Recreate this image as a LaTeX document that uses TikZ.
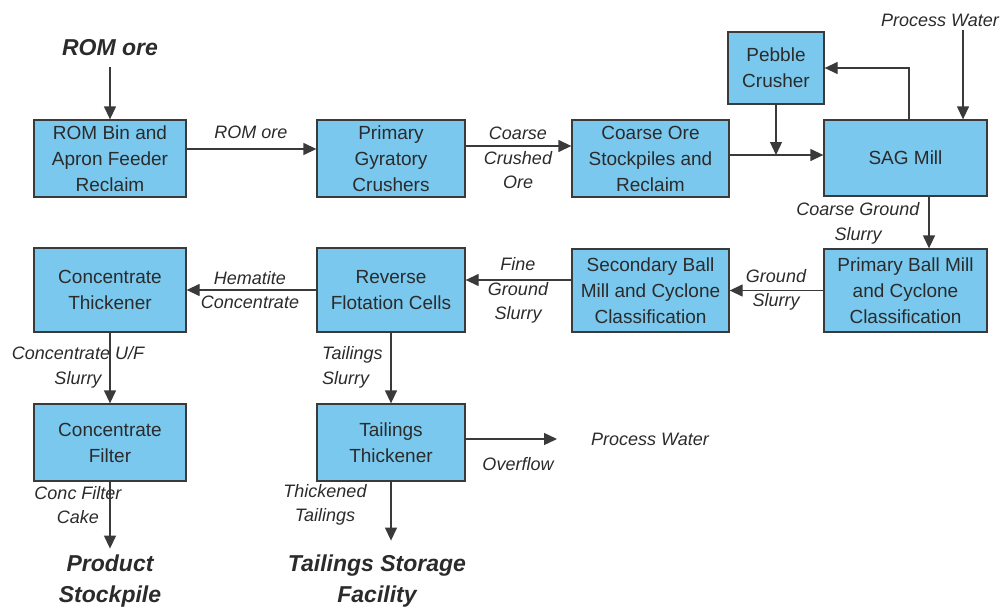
\documentclass[tikz,border=0pt]{standalone}
\usepackage{fontspec}
\setmainfont{Liberation Sans}
\usetikzlibrary{arrows.meta,calc}
\definecolor{boxfill}{HTML}{7AC8EE}
\definecolor{boxline}{HTML}{3A3A3A}
\definecolor{txt}{HTML}{2B2B2B}
\tikzset{
  box/.style={draw=boxline, fill=boxfill, line width=1.3pt, align=center, text=txt,
    font=\fontsize{19}{26}\selectfont, inner sep=0pt},
  lbl/.style={align=center, text=txt, font=\fontsize{18}{24.5}\selectfont\itshape, inner sep=0pt},
  ttl/.style={align=center, text=txt, font=\fontsize{23}{31}\selectfont\bfseries\itshape, inner sep=0pt},
  arr/.style={draw=boxline, line width=1.3pt, -{Triangle[length=13pt,width=12pt]}},
  ln/.style={draw=boxline, line width=1.3pt}
}
\begin{document}
\begin{tikzpicture}[x=1pt,y=-1pt]
\useasboundingbox (0,0) rectangle (1004,610);
% boxes
\node[box, minimum width=152pt, minimum height=77pt] (rom) at (110,158.5) {ROM Bin and\\Apron Feeder\\Reclaim};
\node[box, minimum width=148pt, minimum height=77pt] (pgc) at (391,158.5) {Primary\\Gyratory\\Crushers};
\node[box, minimum width=157pt, minimum height=77pt] (cos) at (650.5,158.5) {Coarse Ore\\Stockpiles and\\Reclaim};
\node[box, minimum width=96pt, minimum height=72pt] (peb) at (776,68) {Pebble\\Crusher};
\node[box, minimum width=163pt, minimum height=76pt] (sag) at (905.5,158) {SAG Mill};
\node[box, minimum width=163pt, minimum height=83pt] (pbm) at (905.5,290.5) {Primary Ball Mill\\and Cyclone\\Classification};
\node[box, minimum width=157pt, minimum height=83pt] (sbm) at (650.5,290.5) {Secondary Ball\\Mill and Cyclone\\Classification};
\node[box, minimum width=148pt, minimum height=84pt] (rfc) at (391,290) {Reverse\\Flotation Cells};
\node[box, minimum width=152pt, minimum height=84pt] (cth) at (110,290) {Concentrate\\Thickener};
\node[box, minimum width=152pt, minimum height=77pt] (cfi) at (110,442.5) {Concentrate\\Filter};
\node[box, minimum width=148pt, minimum height=77pt] (tth) at (391,442.5) {Tailings\\Thickener};
% titles
\node[ttl] (romore) at (110,48) {ROM ore};
\node[ttl] (prod) at (110,581) {Product\\Stockpile};
\node[ttl] (tsf) at (377,581) {Tailings Storage\\Facility};
\node[lbl] (pw1) at (940,20) {Process Water};
\node[lbl] (pw2) at (650,439) {Process Water};
% labels
\node[lbl] at (251,132) {ROM ore};
\node[lbl] at (518,158) {Coarse\\Crushed\\Ore};
\node[lbl] at (858,223.5) {Coarse Ground\\Slurry};
\node[lbl] at (776,290) {Ground\\Slurry};
\node[lbl] at (518,290.5) {Fine\\Ground\\Slurry};
\node[lbl] at (250,290) {Hematite\\Concentrate};
\node[lbl] at (78,367.5) {Concentrate U/F\\Slurry};
\node[lbl, align=left, anchor=west] at (322,367.5) {Tailings\\Slurry};
\node[lbl] at (78,505) {Conc Filter\\Cake};
\node[lbl] at (325,505) {Thickened\\Tailings};
\node[lbl] at (518,464) {Overflow};
% connectors
\draw[arr] ([yshift=-11pt]romore.south) -- (rom.north);
\draw[arr] ([yshift=9.5pt]rom.east) -- ([yshift=9.5pt]pgc.west);
\draw[arr] ([yshift=12.5pt]pgc.east) -- ([yshift=12.5pt]cos.west);
\coordinate (j) at (776,155);
\draw[arr] ([yshift=3.5pt]cos.east) -- ([yshift=3pt]sag.west);
\draw[arr] (peb.south) -- (j);
\draw[arr] ([xshift=3.5pt]sag.north) |- (peb.east);
\draw[arr] ([xshift=23pt,yshift=-4pt]pw1.south) -- ([xshift=57.5pt]sag.north);
\draw[arr] ([xshift=23.5pt]sag.south) -- ([xshift=23.5pt]pbm.north);
\draw[arr] (pbm.west) -- (sbm.east);
\draw[arr] ([yshift=10.5pt]sbm.west) -- ([yshift=10pt]rfc.east);
\draw[arr] (rfc.west) -- (cth.east);
\draw[arr] (cth.south) -- (cfi.north);
\draw[arr] (rfc.south) -- (tth.north);
\draw[arr] (cfi.south) -- ([yshift=6pt]prod.north);
\draw[arr] (tth.south) -- ([yshift=14pt]tth.south |- tsf.north);
\coordinate (pwend) at (557,439);
\draw[arr] ([yshift=3.5pt]tth.east) -- (pwend);
\end{tikzpicture}
\end{document}
